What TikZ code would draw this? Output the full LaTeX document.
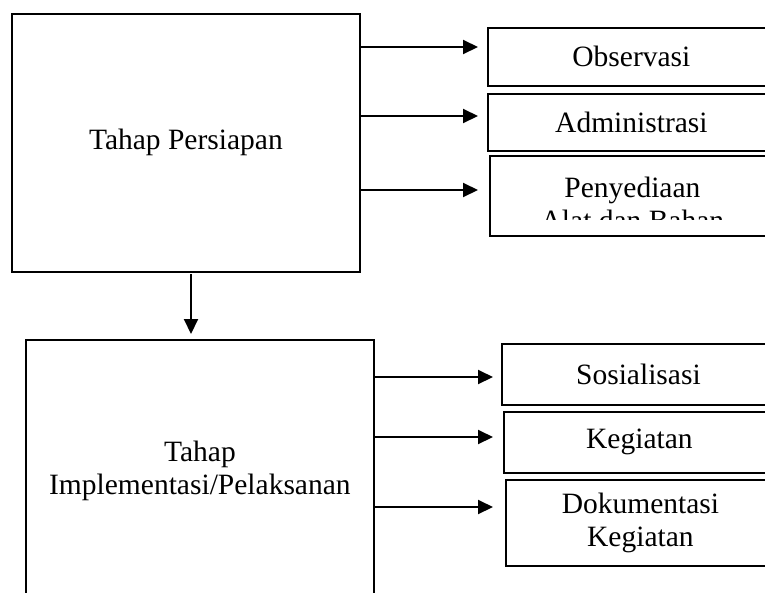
\documentclass[tikz,border=0pt]{standalone}
\usepackage{fontspec}
\setmainfont{Liberation Serif}
\usetikzlibrary{positioning,arrows.meta}

\begin{document}
\begin{tikzpicture}[x=1pt,y=-1pt,
      box/.style={draw,line width=1.8pt,rectangle,anchor=north west,align=center,inner sep=0pt,font=\fontsize{29.5}{33}\selectfont},
      arr/.style={line width=2pt,-{Triangle[length=15pt,width=14pt]}}]
      \useasboundingbox (0,0) rectangle (765,592);
      \clip (0,0) rectangle (765,592);
      % tahap persiapan
      \node[box,minimum width=348pt,minimum height=258pt] (prep) at (11,13) {Tahap Persiapan};
      \node[box,minimum width=287pt,minimum height=58pt] (obs) at (487,27) {Observasi};
      \node[box,minimum width=287pt,minimum height=57pt] (adm) at (487,93) {Administrasi};
      \node[box,minimum width=285pt,minimum height=80pt] (pny) at (489,155) {};
      \begin{scope}
        \clip (489,155) rectangle (774,219);
        \node[box,draw=none,anchor=center] (pnyt) at ([yshift=-8pt]pny.center) {Penyediaan\\Alat dan Bahan};
      \end{scope}
      \coordinate (a1) at (478,47);
      \coordinate (a2) at (478,116);
      \coordinate (a3) at (478,190);
      \draw[arr] (prep.east |- a1) -- (a1);
      \draw[arr] (prep.east |- a2) -- (a2);
      \draw[arr] (prep.east |- a3) -- (a3);
      % tahap implementasi
      \node[box,minimum width=348pt,minimum height=262pt] (impl) at (25,339) {Tahap\\Implementasi/Pelaksanan};
      \coordinate (d0) at (191,274);
      \coordinate (d1) at (191,334);
      \draw[arr] (d0) -- (d1);
      \node[box,minimum width=273pt,minimum height=61pt] (sos) at (501,343) {Sosialisasi};
      \node[box,minimum width=271pt,minimum height=61pt] (keg) at (503,411) {Kegiatan};
      \node[box,minimum width=269pt,minimum height=86pt] (dok) at (505,479) {Dokumentasi\\Kegiatan};
      \coordinate (b1) at (493,377);
      \coordinate (b2) at (493,437);
      \coordinate (b3) at (493,507);
      \draw[arr] (impl.east |- b1) -- (b1);
      \draw[arr] (impl.east |- b2) -- (b2);
      \draw[arr] (impl.east |- b3) -- (b3);
    \end{tikzpicture}
\end{document}
